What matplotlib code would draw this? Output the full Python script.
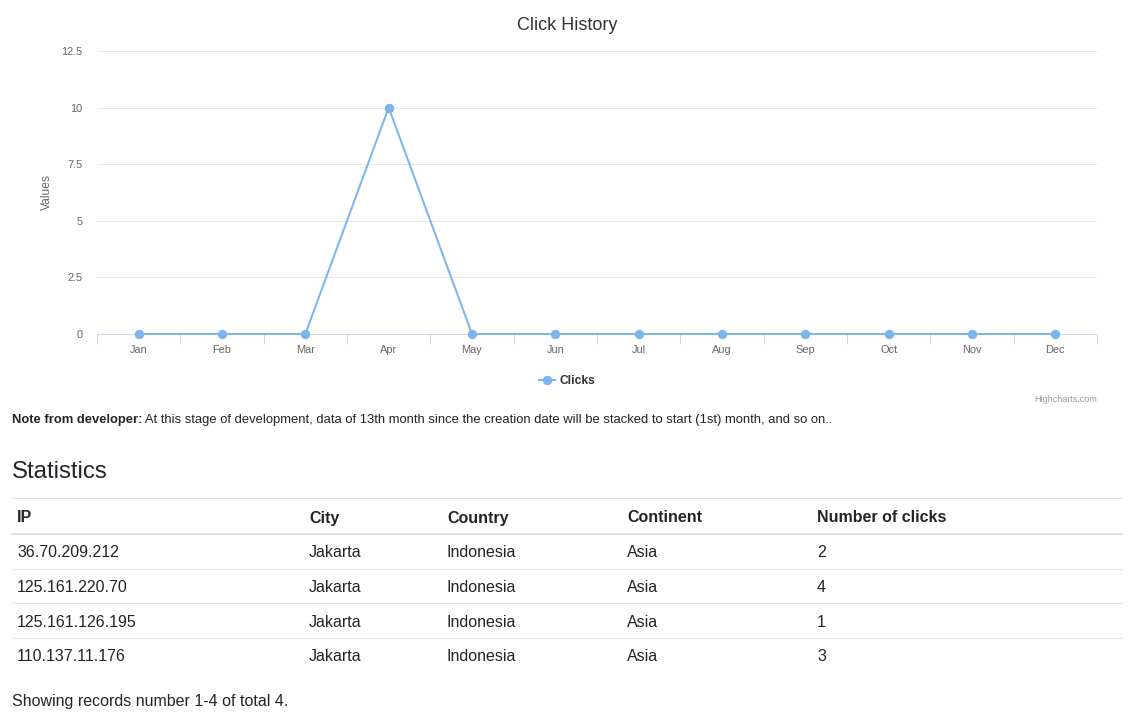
import matplotlib
matplotlib.use('Agg')
import matplotlib.pyplot as plt
from matplotlib.lines import Line2D

# ---------------- data ----------------
months = ['Jan', 'Feb', 'Mar', 'Apr', 'May', 'Jun', 'Jul', 'Aug', 'Sep', 'Oct', 'Nov', 'Dec']
clicks = [0, 0, 0, 10, 0, 0, 0, 0, 0, 0, 0, 0]
y_ticks = [0, 2.5, 5, 7.5, 10, 12.5]
y_tick_labels = ['0', '2.5', '5', '7.5', '10', '12.5']

table_columns = ['IP', 'City', 'Country', 'Continent', 'Number of clicks']
ips = ['36.70.209.212', '125.161.220.70', '125.161.126.195', '110.137.11.176']
cities = ['Jakarta', 'Jakarta', 'Jakarta', 'Jakarta']
countries = ['Indonesia', 'Indonesia', 'Indonesia', 'Indonesia']
continents = ['Asia', 'Asia', 'Asia', 'Asia']
click_counts = [2, 4, 1, 3]

# ---------------- figure ----------------
W, H = 1139, 714
plt.rcParams['font.family'] = ['Liberation Sans', 'DejaVu Sans']
fig = plt.figure(figsize=(W / 100, H / 100), dpi=100)
fig.patch.set_facecolor('white')


def fx(px):
    return px / W


def fy(py):
    return 1 - py / H


PX = 0.72  # points per pixel

ax = fig.add_axes([fx(97), fy(334), fx(1097) - fx(97), fy(51) - fy(334)])
xs = list(range(len(months)))
ax.plot(xs, clicks, color='#7cb5ec', lw=2 * PX, marker='o', ms=8 * PX,
        mec='#7cb5ec', mfc='#7cb5ec', label='Clicks', clip_on=False, zorder=3)
ax.set_xlim(-0.5, len(months) - 0.5)
ax.set_ylim(y_ticks[0], y_ticks[-1])
ax.set_yticks(y_ticks)
ax.set_yticklabels(y_tick_labels)
ax.set_xticks(xs)
ax.set_xticklabels(months)
ax.set_xticks([i - 0.5 for i in range(len(months) + 1)], minor=True)
ax.tick_params(axis='x', which='major', length=0, pad=7.6, labelsize=11 * PX, labelcolor='#666666')
ax.tick_params(axis='x', which='minor', length=10 * PX, width=PX, color='#ccd6eb')
ax.tick_params(axis='y', which='both', length=0, pad=10.5, labelsize=11 * PX, labelcolor='#666666')
ax.grid(axis='y', color='#e6e6e6', lw=PX)
ax.set_axisbelow(True)
for s in ['top', 'right', 'left']:
    ax.spines[s].set_visible(False)
ax.spines['bottom'].set_color('#ccd6eb')
ax.spines['bottom'].set_linewidth(PX)

fig.text(fx(47), fy(192), 'Values', rotation=90, ha='center', va='center',
         fontsize=12 * PX, color='#666666')
fig.text(fx(567), fy(26), 'Click History', ha='center', va='center',
         fontsize=18 * PX, color='#333333')

ax.legend(loc='center', bbox_to_anchor=(fx(567), fy(381)), bbox_transform=fig.transFigure,
          frameon=False, prop={'weight': 'bold', 'size': 12 * PX}, handlelength=1.33,
          handletextpad=0.42, labelcolor='#333333', borderpad=0, borderaxespad=0)

fig.text(fx(1097), fy(399), 'Highcharts.com', ha='right', va='center',
         fontsize=9 * PX, color='#999999')

# note
t1 = fig.text(fx(12), fy(422.5), 'Note from developer:', ha='left', va='baseline',
              fontsize=13 * PX, fontweight='bold', color='#212529')
ax.annotate(' At this stage of development, data of 13th month since the creation date will be '
            'stacked to start (1st) month, and so on..',
            xy=(1, 0), xycoords=t1, ha='left', va='bottom', fontsize=13 * PX,
            color='#212529', annotation_clip=False)

# statistics
fig.text(fx(12), fy(477.5), 'Statistics', ha='left', va='baseline', fontsize=24 * PX, color='#212529')

col_x = [17, 309, 447, 627, 817]
header_baseline = 522.5
row_baselines = [557, 592, 627, 661]


def hline(py, lw):
    fig.add_artist(Line2D([fx(12), fx(1122)], [fy(py), fy(py)], transform=fig.transFigure,
                          color='#dee2e6', lw=lw))


hline(498, PX)
hline(534, 2 * PX)
for py in [569, 603, 638]:
    hline(py, PX)

for cx, name in zip(col_x, table_columns):
    fig.text(fx(cx), fy(header_baseline), name, ha='left', va='baseline', fontsize=16 * PX,
             fontweight='bold', color='#212529')

rows = list(zip(ips, cities, countries, continents, click_counts))
for ry, row in zip(row_baselines, rows):
    for cx, val in zip(col_x, row):
        fig.text(fx(cx), fy(ry), str(val), ha='left', va='baseline', fontsize=16 * PX,
                 color='#212529')

fig.text(fx(12), fy(706), 'Showing records number 1-4 of total 4.', ha='left', va='baseline',
         fontsize=16 * PX, color='#212529')

fig.savefig('out.png', dpi=100, facecolor='white')
